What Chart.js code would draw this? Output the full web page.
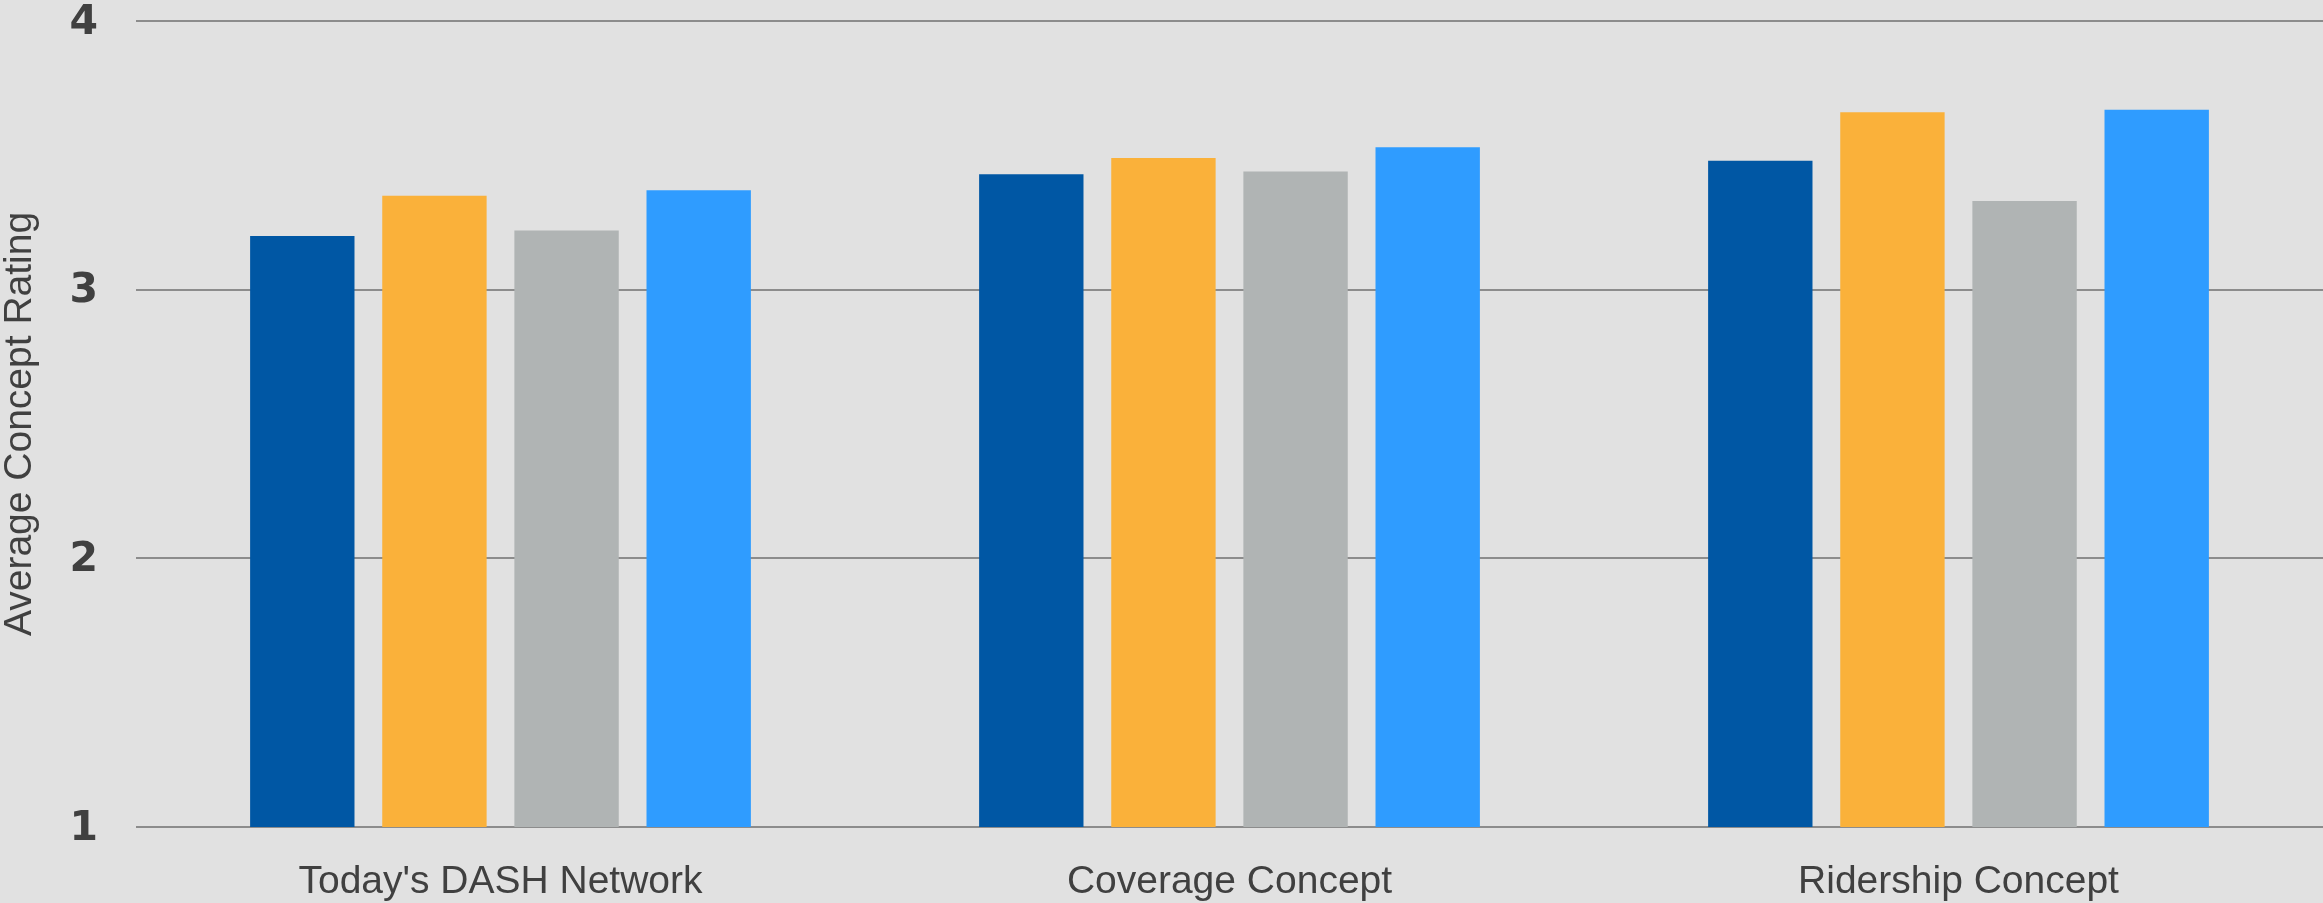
<!DOCTYPE html>
<html>
<head>
<meta charset="utf-8">
<script src="https://cdn.jsdelivr.net/npm/chart.js@4.4.1/dist/chart.umd.min.js"></script>
<style>
  html, body { margin: 0; padding: 0; background: #e1e1e1; overflow: hidden; }
  #wrap { width: 2323px; height: 903px; }
</style>
</head>
<body>
<div id="wrap"><canvas id="ratingChart" width="2323" height="903"></canvas></div>
<script>
// Categories and values
const concepts = ["Today's DASH Network", 'Coverage Concept', 'Ridership Concept'];
const seriesNames = ['Group 1', 'Group 2', 'Group 3', 'Group 4'];
const group1 = [3.20, 3.43, 3.48];
const group2 = [3.35, 3.49, 3.66];
const group3 = [3.22, 3.44, 3.33];
const group4 = [3.37, 3.53, 3.67];
const yTicks = [1, 2, 3, 4];

const barColors = ['#0057a4', '#fab13a', '#b0b4b4', '#2f9cff'];
const textColor = '#404040';

Chart.defaults.font.family = "'Liberation Sans', Arial, sans-serif";
Chart.defaults.color = textColor;

const datasets = [group1, group2, group3, group4].map((values, i) => ({
    label: seriesNames[i],
    data: values,
    backgroundColor: barColors[i],
    borderWidth: 0,
    categoryPercentage: 0.725,
    barPercentage: 0.79
}));

const chartConfig = {
    type: 'bar',
    data: {
        labels: concepts,
        datasets: datasets
    },
    options: {
        responsive: false,
        devicePixelRatio: 1,
        animation: false,
        // the plot runs a few px past the right edge in the reference
        layout: { padding: { top: 0, left: 0, bottom: 0, right: -3 } },
        plugins: {
            legend: { display: false },
            tooltip: { enabled: false }
        },
        scales: {
            x: {
                grid: { display: false },
                border: { display: false },
                ticks: {
                    color: textColor,
                    padding: 24,
                    maxRotation: 0,
                    font: { size: 39 }
                },
                afterFit: function(scale) {
                    scale.height = 76; // leaves the plot bottom at ~827
                }
            },
            y: {
                min: 1,
                max: 4,
                afterBuildTicks: function(scale) {
                    scale.ticks = yTicks.map(v => ({ value: v }));
                },
                grid: {
                    color: '#8c8c8c',
                    lineWidth: 2,
                    drawTicks: false
                },
                border: { display: false },
                ticks: {
                    color: textColor,
                    padding: 38,
                    labelOffset: 2,
                    font: {
                        family: "'DejaVu Sans', Verdana, sans-serif",
                        size: 41,
                        weight: 'bold',
                        lineHeight: 1
                    }
                },
                title: {
                    display: true,
                    text: 'Average Concept Rating',
                    color: textColor,
                    padding: { top: 1, bottom: 0 },
                    font: { size: 39, lineHeight: 1 }
                },
                afterFit: function(scale) {
                    scale.width = 136;
                    // top gridline sits ~21px below the canvas edge
                    scale.paddingTop = 21;
                    scale.paddingBottom = 0;
                }
            }
        }
    }
};

const ratingChart = new Chart(document.getElementById('ratingChart'), chartConfig);
</script>
</body>
</html>
